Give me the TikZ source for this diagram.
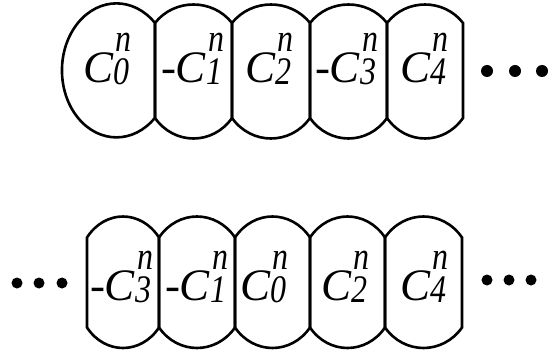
\documentclass[tikz,border=0pt]{standalone}
\usepackage{fontspec}
\setmainfont{Liberation Serif}
\newfontfamily\smallserif[FakeStretch=0.82]{Liberation Serif}
\newcommand\bigsize{\fontsize{45}{45}\selectfont}
\newcommand\smsize{\fontsize{39}{39}\selectfont\smallserif\itshape}
\newcommand\cterm[2]{#1\textit{C}\rlap{\kern2pt\raisebox{31pt}{\smsize n}}\raisebox{-2pt}{\smsize #2}}
\newcommand\capcell[6]{%
  \draw[cellline] (#1,#4) -- (#1,#3)
    .. controls ({#1+(#2-#1)/4},{#3+1.333*#5}) and ({#2-(#2-#1)/4},{#3+1.333*#5}) .. (#2,#3)
    -- (#2,#4)
    .. controls ({#2-(#2-#1)/4},{#4-1.333*#6}) and ({#1+(#2-#1)/4},{#4-1.333*#6}) .. (#1,#4) -- cycle;}
\tikzset{
  cellline/.style={line width=2.6pt, line join=miter},
  termtext/.style={anchor=base west, inner sep=0pt, outer sep=0pt, font=\bigsize},
  dotnode/.style={circle, fill=black, inner sep=0pt, minimum size=#1},
}
\begin{document}
\begin{tikzpicture}[x=1pt,y=1pt]
\useasboundingbox (0,0) rectangle (548,356);
% top row
\draw[cellline] (155,333) arc[start angle=45,end angle=315,x radius=54.5,y radius=67] -- cycle;
\capcell{155}{232}{333}{238}{18.5}{20.5}
\capcell{232}{310}{333}{238}{18.5}{20.5}
\capcell{310}{387}{333}{238}{18.5}{20.5}
\capcell{387}{463}{333}{238}{18.5}{20.5}
\node[termtext] (t0) at (83,273) {\cterm{}{0}};
\node[termtext] (t1) at (161,273) {\cterm{-}{1}};
\node[termtext] (t2) at (245,273) {\cterm{}{2}};
\node[termtext] (t3) at (315,273) {\cterm{-}{3}};
\node[termtext] (t4) at (400,273) {\cterm{}{4}};
\node[dotnode=12pt] (td1) at (487,285) {};
\node[dotnode=12pt] (td2) at (515,285) {};
\node[dotnode=12pt] (td3) at (542,285) {};
% bottom row
\capcell{87}{159}{118.5}{28.5}{21}{20.5}
\capcell{159}{235}{118.5}{28.5}{21}{20.5}
\capcell{235}{310}{118.5}{28.5}{21}{20.5}
\capcell{310}{385}{118.5}{28.5}{21}{20.5}
\capcell{385}{462}{118.5}{28.5}{21}{20.5}
\node[termtext] (b3) at (90,56) {\cterm{-}{3}};
\node[termtext] (b1) at (165,56) {\cterm{-}{1}};
\node[termtext] (b0) at (240,56) {\cterm{}{0}};
\node[termtext] (b2) at (321,56) {\cterm{}{2}};
\node[termtext] (b4) at (400,56) {\cterm{}{4}};
\node[dotnode=11pt] (bl1) at (17,73) {};
\node[dotnode=11pt] (bl2) at (39,73) {};
\node[dotnode=11pt] (bl3) at (62,73) {};
\node[dotnode=11pt] (br1) at (487,76) {};
\node[dotnode=11pt] (br2) at (509,76) {};
\node[dotnode=11pt] (br3) at (531,76) {};
\end{tikzpicture}
\end{document}
